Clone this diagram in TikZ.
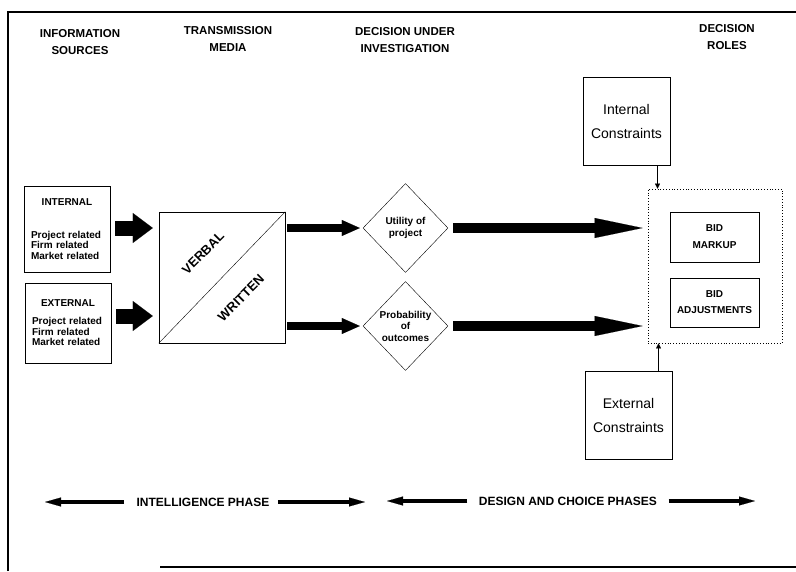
\documentclass[tikz,border=0pt]{standalone}
\usepackage{fontspec}
\setmainfont{Liberation Sans}
\usepackage{tikz}
\usetikzlibrary{positioning,shapes.geometric,arrows.meta}

\begin{document}
\begin{tikzpicture}[
  x=1pt, y=-1pt,
  every node/.style={font=\bfseries\fontsize{10}{11}\selectfont},
  hdr/.style={align=center, font=\bfseries\fontsize{11.5}{17}\selectfont},
  srcbox/.style={draw, thin, minimum width=86pt, text width=72pt, inner xsep=7pt, align=left, font=\bfseries\fontsize{10}{10.5}\selectfont},
  consbox/.style={draw, thin, minimum width=87pt, minimum height=88pt, align=center, font=\fontsize{14}{24}\selectfont},
  bidbox/.style={draw, thin, minimum width=89pt, minimum height=50pt, align=center, font=\bfseries\fontsize{10}{17}\selectfont},
  decdia/.style={draw, thin, diamond, aspect=1, minimum width=85pt, minimum height=89pt, inner sep=0pt, align=center, font=\bfseries\fontsize{10}{11.5}\selectfont},
  fatarrow/.style={line width=15pt, -{Triangle[length=20pt, width=30pt, line width=0.1pt]}, shorten <=5pt, shorten >=6pt},
  midarrow/.style={line width=8pt, -{Triangle[length=18pt, width=16pt, line width=0.1pt]}, shorten <=2pt, shorten >=3pt},
  longarrow/.style={line width=10pt, -{Triangle[length=48pt, width=20pt, line width=0.1pt]}, shorten <=5pt, shorten >=5pt},
  phasearrow/.style={line width=3.5pt, -{Triangle[length=16pt, width=9pt, line width=0.1pt]}},
  tiparrow/.style={line width=1.5pt, -{Triangle[length=5pt, width=5pt, line width=0.1pt]}}
]
\useasboundingbox (0,0) rectangle (796,571);
\draw[line width=1.6pt] (8,571) -- (8,12) -- (796,12);
\draw[line width=1.6pt] (160,567) -- (796,567);

\node[hdr] (hsrc) at (80,42) {INFORMATION\\SOURCES};
\node[hdr] (hmed) at (228,39) {TRANSMISSION\\MEDIA};
\node[hdr] (hdec) at (405,40) {DECISION UNDER\\INVESTIGATION};
\node[hdr] (hrol) at (727,37) {DECISION\\ROLES};

\node[srcbox, minimum height=86pt] (intbox) at (67,229) {{\centering INTERNAL\par}\vspace{22pt}Project related\\Firm related\\Market related\par\vspace{6pt}};
\node[srcbox, minimum height=80pt] (extbox) at (68,323) {{\centering EXTERNAL\par}\vspace{7.5pt}Project related\\Firm related\\Market related\par\vspace{14pt}};

\node[draw, thin, minimum width=126pt, minimum height=131pt] (media) at (222,277.5) {};
\draw[thin] (media.south west) -- (media.north east);
\node[rotate=45, font=\bfseries\fontsize{13}{13}\selectfont] (verbal) at (203,253) {VERBAL};
\node[rotate=45, font=\bfseries\fontsize{13}{13}\selectfont] (written) at (241,298) {WRITTEN};

\node[decdia] (util) at (405.5,228) {Utility of\\project};
\node[decdia] (prob) at (405.5,326) {Probability\\of\\outcomes};

\node[draw, dotted, thick, minimum width=134pt, minimum height=154pt] (roles) at (715,266) {};
\node[bidbox] (markup) at (714.5,237) {BID\\MARKUP};
\node[bidbox, minimum height=49pt, font=\bfseries\fontsize{10}{16}\selectfont] (adjust) at (714.5,302.5) {BID\\ADJUSTMENTS};

\node[consbox] (intcons) at (626.5,121) {Internal\\Constraints};
\node[consbox] (extcons) at (628.5,415) {External\\Constraints};

\coordinate (exin) at ([yshift=7pt]extbox.east);
\draw[fatarrow] (intbox.east |- util) -- (media.west |- util);
\draw[fatarrow] (exin) -- (exin -| media.west);
\draw[midarrow] (media.east |- util) -- (util.west);
\draw[midarrow] (media.east |- prob) -- (prob.west);
\draw[longarrow] (util.east) -- (roles.west |- util);
\draw[longarrow] (prob.east) -- (roles.west |- prob);

\coordinate (tapin) at ([xshift=31pt]intcons.south);
\coordinate (tapex) at ([xshift=30pt]extcons.north);
\draw[tiparrow] (tapin) -- (tapin |- roles.north);
\draw[tiparrow] (tapex) -- (tapex |- roles.south);

\node[font=\bfseries\fontsize{12}{12}\selectfont] (intel) at (203,502) {INTELLIGENCE PHASE};
\node[font=\bfseries\fontsize{12}{12}\selectfont] (design) at (568,501) {DESIGN AND CHOICE PHASES};
\coordinate (intl) at (45,502);
\coordinate (intr) at (365,502);
\coordinate (desl) at (387,501);
\coordinate (desr) at (755,501);
\draw[phasearrow, shorten <=9pt] (intel.west) -- (intl);
\draw[phasearrow, shorten <=5pt] (intel.east) -- (intr);
\draw[phasearrow, shorten <=8pt] (design.west) -- (desl);
\draw[phasearrow, shorten <=8pt] (design.east) -- (desr);
\end{tikzpicture}
\end{document}
